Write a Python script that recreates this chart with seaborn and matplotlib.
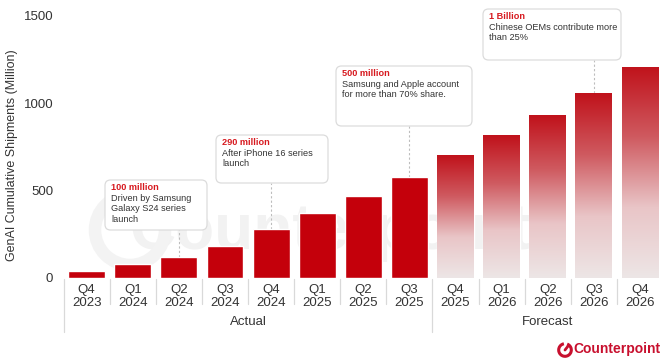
import numpy as np
import pandas as pd
import matplotlib
matplotlib.use("Agg")
import matplotlib.pyplot as plt
from matplotlib.patches import FancyBboxPatch, Arc, Ellipse
from matplotlib.colors import LinearSegmentedColormap
import seaborn as sns

# Cumulative GenAI smartphone shipments (million units)
quarters = ["Q4", "Q1", "Q2", "Q3", "Q4", "Q1", "Q2", "Q3", "Q4", "Q1", "Q2", "Q3", "Q4"]
years = ["2023", "2024", "2024", "2024", "2024", "2025", "2025", "2025",
         "2025", "2026", "2026", "2026", "2026"]
shipments = [37, 80, 120, 184, 280, 372, 467, 575, 703, 816, 931, 1057, 1210]
phase = ["Actual"] * 8 + ["Forecast"] * 5

# Callouts attached to specific quarters
callout_index = [2, 4, 7, 11]
callout_head = ["100 million", "290 million", "500 million", "1 Billion"]
callout_body = ["Driven by Samsung\nGalaxy S24 series\nlaunch",
                "After iPhone 16 series\nlaunch",
                "Samsung and Apple account\nfor more than 70% share.",
                "Chinese OEMs contribute more\nthan 25%"]

RED = "#c4000b"
df = pd.DataFrame({"label": [f"{q}\n{y}" for q, y in zip(quarters, years)],
                   "value": shipments, "phase": phase})

sns.set_theme(style="white")
plt.rcParams["font.family"] = ["Liberation Sans", "DejaVu Sans"]

W, H = 662, 358
fig = plt.figure(figsize=(W / 100, H / 100), dpi=100)
y0_px, y1_px = 277.7, 16.0
x0_px, x1_px = 63.6, 663.0
ax = fig.add_axes([x0_px / W, (H - y0_px) / H, (x1_px - x0_px) / W, (y0_px - y1_px) / H])

sns.barplot(data=df, x="label", y="value", color=RED, width=0.8,
            saturation=1, ax=ax, zorder=3)
ax.set_xlim(-0.5, len(shipments) - 0.5)
ax.set_ylim(0, 1500)
ax.set_yticks([0, 500, 1000, 1500])
ax.set_yticklabels(["0", "500", "1000", "1500"], fontsize=9.5, color="#333333")
ax.tick_params(axis="y", length=0, pad=7.5)
ax.tick_params(axis="x", length=0, pad=4.5, labelsize=9.5, labelcolor="#333333")
for lbl in ax.get_xticklabels():
    lbl.set_linespacing(1.12)
ax.set_xlabel("")
ax.set_ylabel("GenAI Cumulative Shipments (Million)", fontsize=9, color="#333333")
ax.yaxis.set_label_coords((18 - x0_px) / (x1_px - x0_px), (y0_px - 155) / (y0_px - y1_px))
for s in ax.spines.values():
    s.set_visible(False)

# Gradient fill for forecast bars (red at top fading to pale grey)
grad = LinearSegmentedColormap.from_list("fade", ["#ede6e6", "#e9c5c7", "#cf5a60", "#c0121b"])
for patch, ph in zip(ax.patches, phase):
    if ph != "Forecast":
        continue
    x, y = patch.get_x(), patch.get_y()
    w, h = patch.get_width(), patch.get_height()
    patch.set_facecolor("none")
    img = ax.imshow(np.linspace(0, 1, 256).reshape(-1, 1), cmap=grad, origin="lower",
                    extent=[x, x + w, y, y + h], aspect="auto", zorder=3)
    img.set_clip_path(patch)

def px_to_data(px, py):
    xd = -0.5 + (px - x0_px) / (x1_px - x0_px) * len(shipments)
    yd = (y0_px - py) / (y0_px - y1_px) * 1500
    return xd, yd

# Faint watermark
wx, wy = px_to_data(330, 232)
ax.text(wx, wy, "Counterpoint", fontsize=46, fontweight="bold", color="#f2f2f2",
        ha="center", va="center", zorder=1)
cx, cy = px_to_data(130, 230)
rx = 70 / (x1_px - x0_px) * len(shipments)
ry = 70 / (y0_px - y1_px) * 1500
ax.add_patch(Ellipse((cx, cy), rx, ry, fill=False, lw=9, ec="#f3f3f3", zorder=1))

# Category / group separators below the axis
trans = ax.get_xaxis_transform()
sep_c = "#d9d9d9"
def frac(px):
    return (y0_px - px) / (y0_px - y1_px)
for i in range(len(shipments) + 1):
    xb = i - 0.5
    long_line = i in (0, 8, len(shipments))
    bottom = frac(332 if long_line else 304)
    ax.plot([xb, xb], [frac(279), bottom], transform=trans, color=sep_c, lw=0.9,
            clip_on=False)
ax.text(3.5, frac(322), "Actual", transform=trans, ha="center", va="center",
        fontsize=9.5, color="#333333")
ax.text(10.0, frac(322), "Forecast", transform=trans, ha="center", va="center",
        fontsize=9.5, color="#333333")

# Callout boxes with dashed leader lines
box_px = [(105, 180, 207, 230), (216, 135, 328, 183), (336, 66, 472, 126), (483, 9, 621, 60)]
for idx, head, body, (l, t, r, b) in zip(callout_index, callout_head, callout_body, box_px):
    xl, yt = px_to_data(l, t)
    xr, yb = px_to_data(r, b)
    ax.plot([idx, idx], [shipments[idx], yb], ls=(0, (2, 2)), color="#bdbdbd", lw=0.8,
            zorder=2, clip_on=False)
    box = FancyBboxPatch((xl, yb), xr - xl, yt - yb,
                         boxstyle="round,pad=0,rounding_size=0.12",
                         mutation_aspect=(1500 / (y0_px - y1_px)) / (len(shipments) / (x1_px - x0_px)),
                         fc="white", ec="#dcdcdc", lw=0.9, zorder=4, clip_on=False)
    ax.add_patch(box)
    tx, ty = px_to_data(l + 6, t + 7.5)
    ax.text(tx, ty, head, color="#d7191f", fontsize=6.6, fontweight="bold",
            va="center", ha="left", zorder=5, clip_on=False)
    _, ty2 = px_to_data(l + 6, t + 14)
    ax.text(tx, ty2, body, color="#333333", fontsize=6.6, va="top", ha="left",
            linespacing=1.2, zorder=5, clip_on=False)

# Brand mark in the lower-right corner
fig.text(661 / W, 1 - 349 / H, "Counterpoint", ha="right", va="center",
         fontsize=10, fontweight="bold", color="#c8102e")
lax = fig.add_axes([556 / W, 1 - 359 / H, 18 / W, 18 / H])
lax.set_xlim(-1, 1); lax.set_ylim(-1, 1); lax.set_aspect("equal"); lax.axis("off")
lax.add_patch(Arc((0, 0), 1.4, 1.4, theta1=100, theta2=430, lw=2.2, color="#c8102e"))
lax.plot([0, 0.35], [0, 0.45], color="#c8102e", lw=2)

fig.savefig("out.png", dpi=100)
